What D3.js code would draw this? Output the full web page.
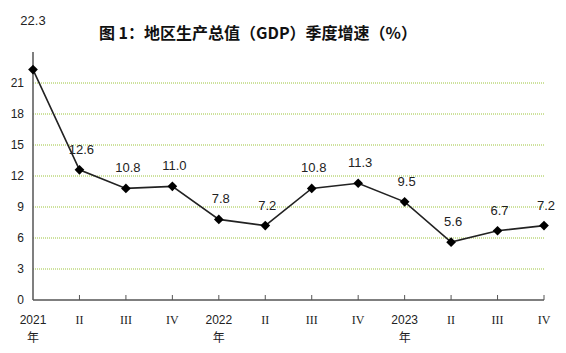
<!DOCTYPE html>
<html>
<head>
<meta charset="utf-8">
<script src="https://cdn.jsdelivr.net/npm/d3@7"></script>
<style>
  body { margin: 0; background: #fff; }
  text { font-family: "Liberation Sans", "DejaVu Sans", sans-serif; }
</style>
</head>
<body>
<div id="chart"></div>
<script>
// chart data
const years = ["2021", "", "", "", "2022", "", "", "", "2023", "", "", ""];
const quarters = ["年", "II", "III", "IV", "年", "II", "III", "IV", "年", "II", "III", "IV"];
const growth = [22.3, 12.6, 10.8, 11.0, 7.8, 7.2, 10.8, 11.3, 9.5, 5.6, 6.7, 7.2];
const yTicks = [0, 3, 6, 9, 12, 15, 18, 21];

const width = 566, height = 353;
const plot = { left: 33, right: 544, top: 52, bottom: 300 };

let svg = d3.select('#chart')
    .append('svg')
    .attr('width', width)
    .attr('height', height);

// scales
let xScale = d3.scalePoint()
    .domain(d3.range(growth.length))
    .range([plot.left, plot.right]);

let yScale = d3.scaleLinear()
    .domain([0, 24])
    .range([plot.bottom, plot.top]);

// title
svg.append('text')
    .attr('x', 258)
    .attr('y', 39)
    .attr('text-anchor', 'middle')
    .style('font-family', '"Noto Sans CJK SC", sans-serif')
    .style('font-weight', 'bold')
    .style('font-size', '16px')
    .style('fill', '#111')
    .text('图 1：地区生产总值（GDP）季度增速（%）');

// gridlines
svg.append('g')
    .selectAll('line')
    .data(yTicks.filter(d => d > 0))
    .enter()
    .append('line')
    .attr('x1', plot.left)
    .attr('x2', plot.right)
    .attr('y1', d => yScale(d))
    .attr('y2', d => yScale(d))
    .attr('stroke', '#9cc43a')
    .attr('stroke-width', 1)
    .attr('stroke-dasharray', '1 1');

// y axis
svg.append('line')
    .attr('x1', plot.left).attr('x2', plot.left)
    .attr('y1', plot.top).attr('y2', plot.bottom)
    .attr('stroke', '#555')
    .attr('stroke-width', 1.5);

svg.append('g')
    .selectAll('text')
    .data(yTicks)
    .enter()
    .append('text')
    .attr('x', plot.left - 9)
    .attr('y', d => yScale(d))
    .attr('dy', '0.35em')
    .attr('text-anchor', 'end')
    .style('font-size', '12px')
    .style('fill', '#222')
    .text(d => d);

// x axis
svg.append('line')
    .attr('x1', plot.left).attr('x2', plot.right)
    .attr('y1', plot.bottom).attr('y2', plot.bottom)
    .attr('stroke', '#555')
    .attr('stroke-width', 1.5);

svg.append('g')
    .selectAll('line')
    .data(d3.range(1, growth.length))
    .enter()
    .append('line')
    .attr('x1', d => xScale(d))
    .attr('x2', d => xScale(d))
    .attr('y1', plot.bottom)
    .attr('y2', plot.bottom - 5)
    .attr('stroke', '#555')
    .attr('stroke-width', 1);

let xLabels = svg.append('g');
xLabels.selectAll('text.year')
    .data(d3.range(growth.length).filter(i => years[i]))
    .enter()
    .append('text')
    .attr('class', 'year')
    .attr('x', i => xScale(i))
    .attr('y', 324)
    .attr('text-anchor', 'middle')
    .style('font-size', '12px')
    .style('fill', '#222')
    .text(i => years[i]);

xLabels.selectAll('text.q')
    .data(d3.range(growth.length))
    .enter()
    .append('text')
    .attr('class', 'q')
    .attr('x', i => xScale(i))
    .attr('y', i => years[i] ? 342 : 324)
    .attr('text-anchor', 'middle')
    .style('font-family', i => years[i] ? '"Noto Sans CJK SC", sans-serif' : '"Liberation Serif", serif')
    .style('font-size', '12px')
    .style('fill', '#222')
    .text(i => quarters[i]);

// line
let line = d3.line()
    .x((d, i) => xScale(i))
    .y(d => yScale(d));

svg.append('path')
    .datum(growth)
    .attr('fill', 'none')
    .attr('stroke', '#222')
    .attr('stroke-width', 1.6)
    .attr('d', line);

// diamond markers
svg.append('g')
    .selectAll('path')
    .data(growth)
    .enter()
    .append('path')
    .attr('d', d3.symbol().type(d3.symbolDiamond2).size(60))
    .attr('transform', (d, i) => `translate(${xScale(i)}, ${yScale(d)})`)
    .attr('fill', '#000');

// value labels
svg.append('g')
    .selectAll('text')
    .data(growth)
    .enter()
    .append('text')
    .attr('x', (d, i) => xScale(i) + (i === 0 ? 0 : 2))
    .attr('y', (d, i) => yScale(d) - (i === 0 ? 45 : 16))
    .attr('text-anchor', 'middle')
    .style('font-size', '13px')
    .style('fill', '#222')
    .text(d => d.toFixed(1));
</script>
</body>
</html>
